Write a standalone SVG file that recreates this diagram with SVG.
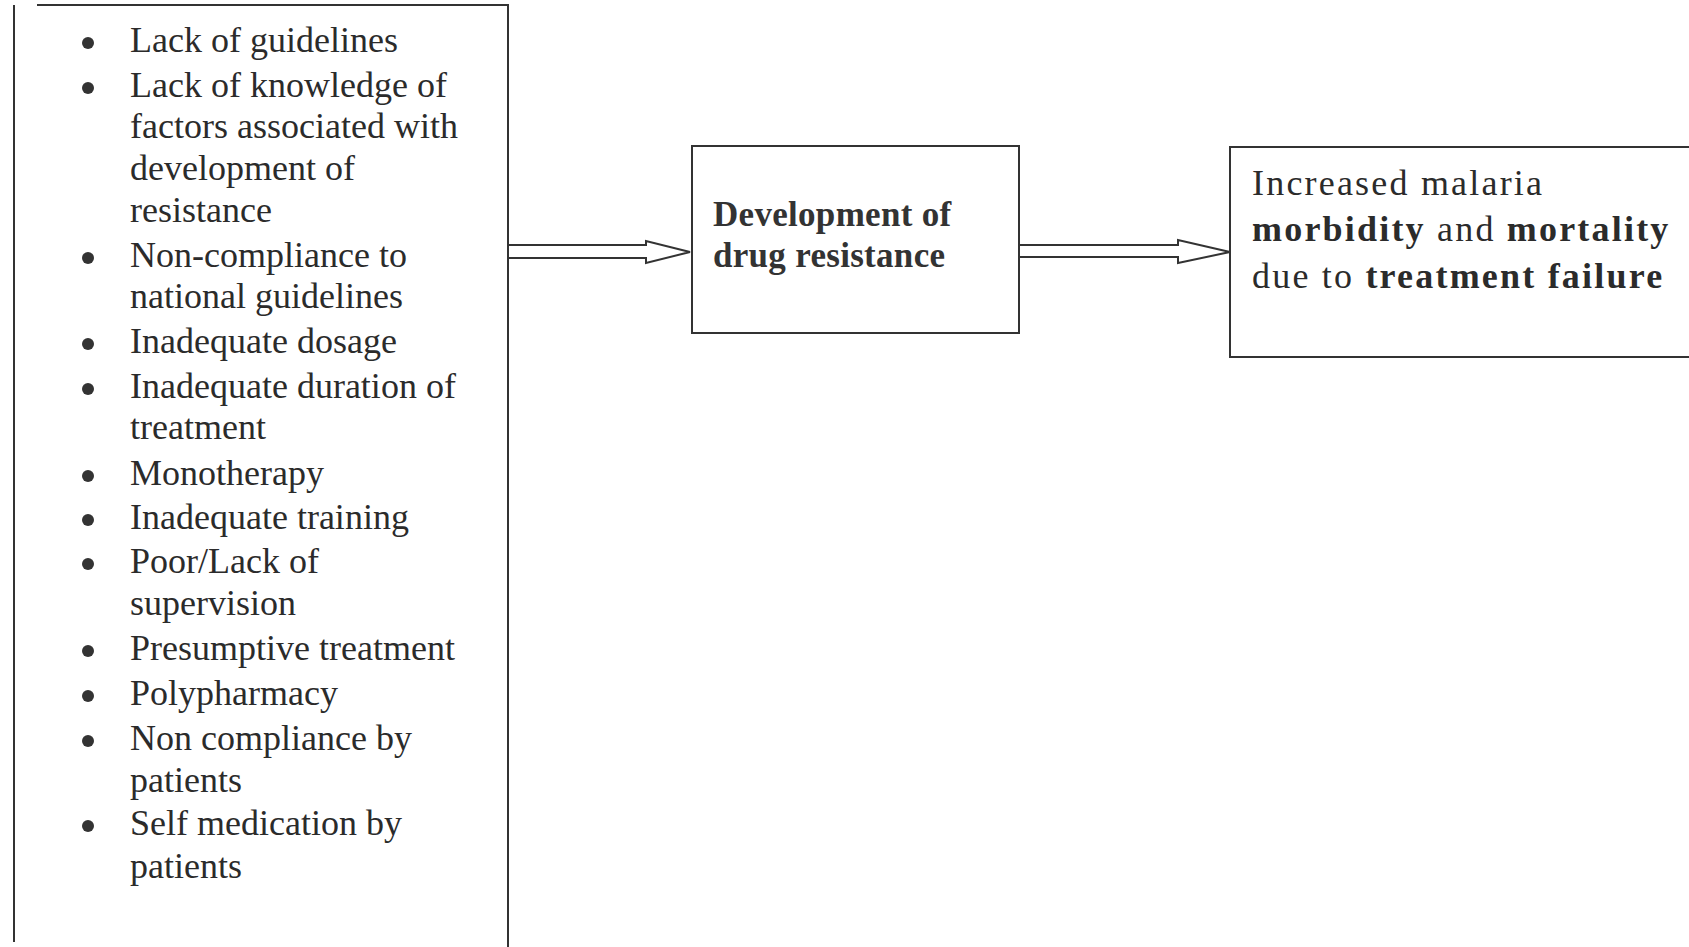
<svg xmlns="http://www.w3.org/2000/svg" width="1689" height="947" viewBox="0 0 1689 947">
  <style>
    .frame { fill: none; stroke: #333; stroke-width: 2; }
    .box { fill: none; stroke: #333; stroke-width: 2; }
    .item { font-family: "Liberation Serif", "Times New Roman", serif; font-size: 36px; fill: #2b2b2b; }
    .mid { font-family: "Liberation Serif", "Times New Roman", serif; font-size: 35px; font-weight: bold; fill: #333; letter-spacing: 0.3px; }
    .out { font-family: "Liberation Serif", "Times New Roman", serif; font-size: 36px; fill: #2b2b2b; letter-spacing: 2.2px; }
    .b { font-weight: bold; }
    .dot { fill: #333; }
    .arrow { fill: #fff; stroke: #333; stroke-width: 2; stroke-linejoin: miter; }
  </style>
  <rect width="1689" height="947" fill="#fff"/>

  <!-- Hollow block arrows (drawn first so box borders stay on top) -->
  <g id="connectors">
    <polyline class="arrow" points="508,245 646,245 646,241 690,252 646,263 646,258 508,258"/>
    <polyline class="arrow" points="1019,245 1178,245 1178,240 1230,252 1178,263 1178,257 1019,257"/>
  </g>

  <!-- Causes: open-bottomed list box -->
  <g id="causes">
    <path class="frame" d="M14 5 V942 M37 5 H508 V947"/>
    <g class="dot">
      <circle cx="88" cy="43" r="6"/>
      <circle cx="88" cy="88" r="6"/>
      <circle cx="88" cy="258" r="6"/>
      <circle cx="88" cy="344" r="6"/>
      <circle cx="88" cy="389" r="6"/>
      <circle cx="88" cy="476" r="6"/>
      <circle cx="88" cy="520" r="6"/>
      <circle cx="88" cy="564" r="6"/>
      <circle cx="88" cy="651" r="6"/>
      <circle cx="88" cy="696" r="6"/>
      <circle cx="88" cy="741" r="6"/>
      <circle cx="88" cy="826" r="6"/>
    </g>
    <text class="item" x="130" y="52">Lack of guidelines</text>
    <text class="item" x="130" y="97">Lack of knowledge of</text>
    <text class="item" x="130" y="138">factors associated with</text>
    <text class="item" x="130" y="180">development of</text>
    <text class="item" x="130" y="222">resistance</text>
    <text class="item" x="130" y="267">Non-compliance to</text>
    <text class="item" x="130" y="308">national guidelines</text>
    <text class="item" x="130" y="353">Inadequate dosage</text>
    <text class="item" x="130" y="398">Inadequate duration of</text>
    <text class="item" x="130" y="439">treatment</text>
    <text class="item" x="130" y="485">Monotherapy</text>
    <text class="item" x="130" y="529">Inadequate training</text>
    <text class="item" x="130" y="573">Poor/Lack of</text>
    <text class="item" x="130" y="615">supervision</text>
    <text class="item" x="130" y="660">Presumptive treatment</text>
    <text class="item" x="130" y="705">Polypharmacy</text>
    <text class="item" x="130" y="750">Non compliance by</text>
    <text class="item" x="130" y="792">patients</text>
    <text class="item" x="130" y="835">Self medication by</text>
    <text class="item" x="130" y="878">patients</text>
  </g>

  <!-- Central effect -->
  <g id="resistance">
    <rect class="box" x="692" y="146" width="327" height="187"/>
    <text class="mid" x="713" y="226">Development of</text>
    <text class="mid" x="713" y="267">drug resistance</text>
  </g>

  <!-- Outcome -->
  <g id="outcome">
    <path class="frame" d="M1700 147 H1230 V357 H1700"/>
    <text class="out" x="1252" y="195">Increased malaria</text>
    <text class="out" x="1252" y="241"><tspan class="b">morbidity</tspan> and <tspan class="b">mortality</tspan></text>
    <text class="out" x="1252" y="288">due to <tspan class="b">treatment failure</tspan></text>
  </g>
</svg>
